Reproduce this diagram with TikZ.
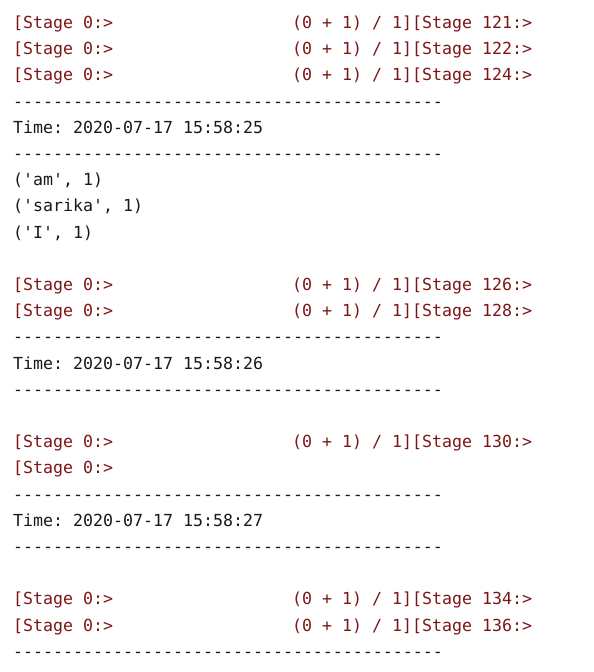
\documentclass[tikz,border=0pt]{standalone}
\usepackage{fontspec}
\setmonofont{DejaVu Sans Mono}
\definecolor{stagered}{RGB}{125,22,22}
\definecolor{termblack}{RGB}{25,25,25}
\newcommand{\termfont}{\ttfamily\fontsize{16.6}{20}\selectfont}
\newcommand{\dashrow}{-------------------------------------------}
\tikzset{
  stageline/.style={anchor=base west,inner sep=0pt,text=stagered,font=\termfont},
  termline/.style={anchor=base west,inner sep=0pt,text=termblack,font=\termfont}
}

\begin{document}
\begin{tikzpicture}[x=1pt,y=-1pt]
        % \draw[step=26.2,gray,very thin] (0,0) grid (594,672);
        \fill[white] (0,0) rectangle (594,672);
        \useasboundingbox (0,0) rectangle (594,672);
        % first batch
        \node[stageline] (sa1) at (13,28.5) {[Stage 0:>};
        \node[stageline] (sb1) at (292,28.5) {(0 + 1) / 1][Stage 121:>};
        \node[stageline] (sa2) at (13,54.7) {[Stage 0:>};
        \node[stageline] (sb2) at (292,54.7) {(0 + 1) / 1][Stage 122:>};
        \node[stageline] (sa3) at (13,80.9) {[Stage 0:>};
        \node[stageline] (sb3) at (292,80.9) {(0 + 1) / 1][Stage 124:>};
        \node[termline] (rule1) at (13,107.1) {\dashrow};
        \node[termline] (time1) at (13,133.3) {Time: 2020-07-17 15:58:25};
        \node[termline] (rule2) at (13,159.5) {\dashrow};
        \node[termline] (word1) at (13,185.7) {('am', 1)};
        \node[termline] (word2) at (13,211.9) {('sarika', 1)};
        \node[termline] (word3) at (13,238.1) {('I', 1)};
        % second batch
        \node[stageline] (sa4) at (13,290.5) {[Stage 0:>};
        \node[stageline] (sb4) at (292,290.5) {(0 + 1) / 1][Stage 126:>};
        \node[stageline] (sa5) at (13,316.7) {[Stage 0:>};
        \node[stageline] (sb5) at (292,316.7) {(0 + 1) / 1][Stage 128:>};
        \node[termline] (rule3) at (13,342.9) {\dashrow};
        \node[termline] (time2) at (13,369.1) {Time: 2020-07-17 15:58:26};
        \node[termline] (rule4) at (13,395.3) {\dashrow};
        % third batch
        \node[stageline] (sa6) at (13,447.7) {[Stage 0:>};
        \node[stageline] (sb6) at (292,447.7) {(0 + 1) / 1][Stage 130:>};
        \node[stageline] (sa7) at (13,473.9) {[Stage 0:>};
        \node[termline] (rule5) at (13,500.1) {\dashrow};
        \node[termline] (time3) at (13,526.3) {Time: 2020-07-17 15:58:27};
        \node[termline] (rule6) at (13,552.5) {\dashrow};
        % fourth batch
        \node[stageline] (sa8) at (13,604.9) {[Stage 0:>};
        \node[stageline] (sb8) at (292,604.9) {(0 + 1) / 1][Stage 134:>};
        \node[stageline] (sa9) at (13,631.1) {[Stage 0:>};
        \node[stageline] (sb9) at (292,631.1) {(0 + 1) / 1][Stage 136:>};
        \node[termline] (rule7) at (13,657.3) {\dashrow};
\end{tikzpicture}
\end{document}
